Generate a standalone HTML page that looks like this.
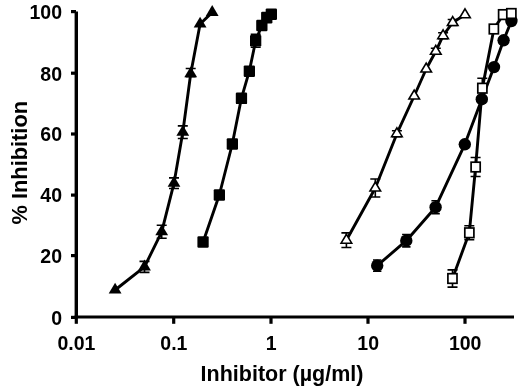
<!DOCTYPE html><html><head><meta charset="utf-8"><title>Inhibition chart</title><style>html,body{margin:0;padding:0;background:#fff}svg{display:block}</style></head><body><svg width="520" height="390" viewBox="0 0 520 390"><rect width="520" height="390" fill="#fff"/><path d="M76.3 11.6V318.6" fill="none" stroke="#000" stroke-width="3.4"/><path d="M74.6 317H514" fill="none" stroke="#000" stroke-width="3.1"/><path d="M71 11.6H76" stroke="#000" stroke-width="3.2"/><path d="M71 73.2H76" stroke="#000" stroke-width="3.2"/><path d="M71 134.0H76" stroke="#000" stroke-width="3.2"/><path d="M71 195.1H76" stroke="#000" stroke-width="3.2"/><path d="M71 255.6H76" stroke="#000" stroke-width="3.2"/><path d="M71 317.4H76" stroke="#000" stroke-width="3.2"/><path d="M76.3 317V323.8" stroke="#000" stroke-width="3.2"/><path d="M173.7 317V323.8" stroke="#000" stroke-width="3.2"/><path d="M271.0 317V323.8" stroke="#000" stroke-width="3.2"/><path d="M368.0 317V323.8" stroke="#000" stroke-width="3.2"/><path d="M465.0 317V323.8" stroke="#000" stroke-width="3.2"/><g font-family="'Liberation Sans', Arial, sans-serif" font-weight="bold" fill="#000"><text x="62" y="18.9" font-size="19.5" text-anchor="end">100</text><text x="62" y="80.5" font-size="19.5" text-anchor="end">80</text><text x="62" y="141.3" font-size="19.5" text-anchor="end">60</text><text x="62" y="202.4" font-size="19.5" text-anchor="end">40</text><text x="62" y="262.9" font-size="19.5" text-anchor="end">20</text><text x="62" y="324.7" font-size="19.5" text-anchor="end">0</text><text x="76.5" y="350.3" font-size="19.5" text-anchor="middle">0.01</text><text x="173.9" y="350.3" font-size="19.5" text-anchor="middle">0.1</text><text x="271.2" y="350.3" font-size="19.5" text-anchor="middle">1</text><text x="368.2" y="350.3" font-size="19.5" text-anchor="middle">10</text><text x="465.2" y="350.3" font-size="19.5" text-anchor="middle">100</text><text x="282" y="381" font-size="21.5" text-anchor="middle">Inhibitor (µg/ml)</text><text transform="translate(26.5,162.7) rotate(-90)" font-size="21.8" text-anchor="middle">% Inhibition</text></g><polyline fill="none" stroke="#000" stroke-width="2.9" stroke-linejoin="round" points="115.1,290.0 144.5,266.9 161.7,231.8 174.0,183.2 182.8,132.2 190.7,73.7 200.1,24.0 212.2,12.4"/><path d="M144.5 261.4V272.4M139.5 261.4H149.5M139.5 272.4H149.5" stroke="#000" stroke-width="1.6" fill="none"/><path d="M161.7 225.3V238.2M156.7 225.3H166.7M156.7 238.2H166.7" stroke="#000" stroke-width="1.6" fill="none"/><path d="M174.0 177.9V188.5M169.0 177.9H179.0M169.0 188.5H179.0" stroke="#000" stroke-width="1.6" fill="none"/><path d="M182.8 125.9V138.5M177.8 125.9H187.8M177.8 138.5H187.8" stroke="#000" stroke-width="1.6" fill="none"/><path d="M190.7 68.5V76.7M185.7 68.5H195.7M185.7 76.7H195.7" stroke="#000" stroke-width="1.6" fill="none"/><path d="M115.1 282.7L121.5 293.6L108.7 293.6Z" fill="#000"/><path d="M144.5 259.6L150.9 270.5L138.1 270.5Z" fill="#000"/><path d="M161.7 224.4L168.1 235.3L155.3 235.3Z" fill="#000"/><path d="M174.0 175.9L180.4 186.8L167.6 186.8Z" fill="#000"/><path d="M182.8 124.9L189.2 135.8L176.4 135.8Z" fill="#000"/><path d="M190.7 66.4L197.1 77.3L184.3 77.3Z" fill="#000"/><path d="M200.1 16.7L206.5 27.6L193.7 27.6Z" fill="#000"/><path d="M212.2 5.1L218.6 16.0L205.8 16.0Z" fill="#000"/><polyline fill="none" stroke="#000" stroke-width="2.9" stroke-linejoin="round" points="203.1,242.0 219.3,195.0 232.3,144.0 241.4,98.3 249.3,71.2 255.7,40.7 261.8,25.5 266.7,17.6 271.3,14.2"/><path d="M255.7 34.2V47.2M250.7 34.2H260.7M250.7 47.2H260.7" stroke="#000" stroke-width="1.6" fill="none"/><rect x="197.4" y="236.2" width="11.3" height="11.6" rx="1.2" fill="#000"/><rect x="213.7" y="189.2" width="11.3" height="11.6" rx="1.2" fill="#000"/><rect x="226.7" y="138.2" width="11.3" height="11.6" rx="1.2" fill="#000"/><rect x="235.8" y="92.5" width="11.3" height="11.6" rx="1.2" fill="#000"/><rect x="243.7" y="65.4" width="11.3" height="11.6" rx="1.2" fill="#000"/><rect x="250.0" y="34.9" width="11.3" height="11.6" rx="1.2" fill="#000"/><rect x="256.2" y="19.7" width="11.3" height="11.6" rx="1.2" fill="#000"/><rect x="261.1" y="11.8" width="11.3" height="11.6" rx="1.2" fill="#000"/><rect x="265.7" y="8.4" width="11.3" height="11.6" rx="1.2" fill="#000"/><polyline fill="none" stroke="#000" stroke-width="2.9" stroke-linejoin="round" points="346.4,240.2 375.3,188.0 396.9,133.7 414.2,96.0 426.2,69.0 435.8,51.3 443.1,35.7 452.7,22.5 465.0,14.8"/><path d="M346.4 232.9V247.5M341.4 232.9H351.4M341.4 247.5H351.4" stroke="#000" stroke-width="1.6" fill="none"/><path d="M375.3 179.0V197.0M370.3 179.0H380.3M370.3 197.0H380.3" stroke="#000" stroke-width="1.6" fill="none"/><path d="M396.9 130.7V136.7M391.9 130.7H401.9M391.9 136.7H401.9" stroke="#000" stroke-width="1.6" fill="none"/><path d="M435.8 48.3V54.3M430.8 48.3H440.8M430.8 54.3H440.8" stroke="#000" stroke-width="1.6" fill="none"/><path d="M443.1 32.7V38.7M438.1 32.7H448.1M438.1 38.7H448.1" stroke="#000" stroke-width="1.6" fill="none"/><path d="M452.7 19.5V25.5M447.7 19.5H457.7M447.7 25.5H457.7" stroke="#000" stroke-width="1.6" fill="none"/><path d="M346.4 234.3L351.7 243.2L341.1 243.2Z" fill="#fff" stroke="#000" stroke-width="1.6"/><path d="M375.3 182.1L380.6 191.0L370.0 191.0Z" fill="#fff" stroke="#000" stroke-width="1.6"/><path d="M396.9 127.8L402.2 136.7L391.6 136.7Z" fill="#fff" stroke="#000" stroke-width="1.6"/><path d="M414.2 90.1L419.5 99.0L408.9 99.0Z" fill="#fff" stroke="#000" stroke-width="1.6"/><path d="M426.2 63.1L431.5 72.0L420.9 72.0Z" fill="#fff" stroke="#000" stroke-width="1.6"/><path d="M435.8 45.4L441.1 54.3L430.5 54.3Z" fill="#fff" stroke="#000" stroke-width="1.6"/><path d="M443.1 29.8L448.4 38.7L437.8 38.7Z" fill="#fff" stroke="#000" stroke-width="1.6"/><path d="M452.7 16.6L458.0 25.5L447.4 25.5Z" fill="#fff" stroke="#000" stroke-width="1.6"/><path d="M465.0 8.9L470.3 17.8L459.7 17.8Z" fill="#fff" stroke="#000" stroke-width="1.6"/><polyline fill="none" stroke="#000" stroke-width="2.9" stroke-linejoin="round" points="377.2,265.6 406.3,240.7 435.6,207.2 464.8,144.3 481.8,99.2 494.0,67.1 503.6,40.3 511.4,21.0"/><path d="M377.2 260.0V271.2M373.0 260.0H381.4M373.0 271.2H381.4" stroke="#000" stroke-width="1.6" fill="none"/><path d="M406.3 234.5V246.9M402.1 234.5H410.5M402.1 246.9H410.5" stroke="#000" stroke-width="1.6" fill="none"/><path d="M435.6 200.8V213.6M431.4 200.8H439.8M431.4 213.6H439.8" stroke="#000" stroke-width="1.6" fill="none"/><circle cx="377.2" cy="265.6" r="6.2" fill="#000"/><circle cx="406.3" cy="240.7" r="6.2" fill="#000"/><circle cx="435.6" cy="207.2" r="6.2" fill="#000"/><circle cx="464.8" cy="144.3" r="6.2" fill="#000"/><circle cx="481.8" cy="99.2" r="6.2" fill="#000"/><circle cx="494.0" cy="67.1" r="6.2" fill="#000"/><circle cx="503.6" cy="40.3" r="6.2" fill="#000"/><circle cx="511.4" cy="21.0" r="6.2" fill="#000"/><polyline fill="none" stroke="#000" stroke-width="2.9" stroke-linejoin="round" points="452.5,278.5 469.3,232.8 475.6,167.0 482.3,88.2 493.9,29.0 503.2,14.6 511.4,13.5"/><path d="M452.5 269.9V287.1M447.5 269.9H457.5M447.5 287.1H457.5" stroke="#000" stroke-width="1.6" fill="none"/><path d="M469.3 225.8V239.8M464.3 225.8H474.3M464.3 239.8H474.3" stroke="#000" stroke-width="1.6" fill="none"/><path d="M475.6 157.5V176.5M470.6 157.5H480.6M470.6 176.5H480.6" stroke="#000" stroke-width="1.6" fill="none"/><path d="M482.3 78.2V98.2M477.3 78.2H487.3M477.3 98.2H487.3" stroke="#000" stroke-width="1.6" fill="none"/><rect x="447.9" y="273.7" width="9.1" height="9.6" fill="#fff" stroke="#000" stroke-width="1.7"/><rect x="464.8" y="228.0" width="9.1" height="9.6" fill="#fff" stroke="#000" stroke-width="1.7"/><rect x="471.1" y="162.2" width="9.1" height="9.6" fill="#fff" stroke="#000" stroke-width="1.7"/><rect x="477.8" y="83.4" width="9.1" height="9.6" fill="#fff" stroke="#000" stroke-width="1.7"/><rect x="489.3" y="24.2" width="9.1" height="9.6" fill="#fff" stroke="#000" stroke-width="1.7"/><rect x="498.6" y="9.8" width="9.1" height="9.6" fill="#fff" stroke="#000" stroke-width="1.7"/><rect x="506.8" y="8.7" width="9.1" height="9.6" fill="#fff" stroke="#000" stroke-width="1.7"/></svg></body></html>
